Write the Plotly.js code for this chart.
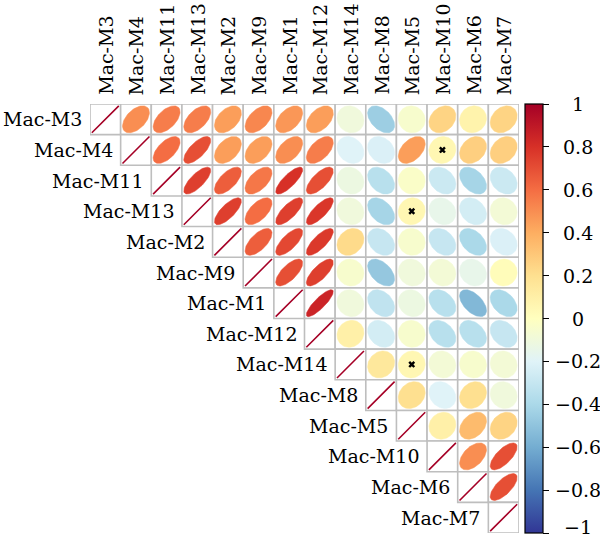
<!DOCTYPE html>
<html>
<head>
<meta charset="utf-8">
<script src="https://cdn.plot.ly/plotly-3.0.1.min.js"></script>
<style>
html,body{margin:0;padding:0;background:#fff}
</style>
</head>
<body>
<div id="chart" style="width:600px;height:536px"></div>
<script>
// ---- data ----
const labels = ['Mac-M3','Mac-M4','Mac-M11','Mac-M13','Mac-M2','Mac-M9','Mac-M1','Mac-M12','Mac-M14','Mac-M8','Mac-M5','Mac-M10','Mac-M6','Mac-M7'];
// upper-triangle correlations: row i, columns i+1..13
const rowM3  = [0.50, 0.55, 0.55, 0.45, 0.52, 0.47, 0.45, -0.10, -0.45, -0.05, 0.25, 0.08, 0.25];
const rowM4  = [0.60, 0.70, 0.45, 0.45, 0.50, 0.55, -0.20, -0.22, 0.45, 0.05, 0.27, 0.27];
const rowM11 = [0.75, 0.65, 0.57, 0.80, 0.70, -0.12, -0.35, -0.03, -0.28, -0.42, -0.28];
const rowM13 = [0.75, 0.60, 0.75, 0.78, -0.10, -0.42, 0.05, -0.15, -0.25, -0.08];
const rowM2  = [0.65, 0.72, 0.77, 0.22, -0.30, -0.05, -0.30, -0.40, -0.22];
const rowM9  = [0.70, 0.75, -0.05, -0.48, -0.10, -0.08, -0.15, 0.02];
const rowM1  = [0.85, -0.10, -0.32, -0.12, -0.35, -0.55, -0.40];
const rowM12 = [0.10, -0.25, -0.05, -0.35, -0.35, -0.30];
const rowM14 = [0.15, 0.05, -0.08, -0.05, -0.08];
const rowM8  = [0.20, -0.20, 0.20, -0.10];
const rowM5  = [0.10, 0.35, 0.25];
const rowM10 = [0.50, 0.70];
const rowM6  = [0.70];
const rows = [rowM3,rowM4,rowM11,rowM13,rowM2,rowM9,rowM1,rowM12,rowM14,rowM8,rowM5,rowM10,rowM6,[]];
// non-significant pairs (row label, column label)
const insigPairs = [['Mac-M4','Mac-M10'],['Mac-M13','Mac-M5'],['Mac-M14','Mac-M5']];
const cbTickVals = [1,0.8,0.6,0.4,0.2,0,-0.2,-0.4,-0.6,-0.8,-1];
const cbTickText = ['1','0.8','0.6','0.4','0.2','0','\u22120.2','\u22120.4','\u22120.6','\u22120.8','\u22121'];

const FONT = 'DejaVu Serif';

// ---- colours ----
const pal = ['#313695','#4575B4','#74ADD1','#ABD9E9','#E0F3F8','#FFFFBF','#FEE090','#FDAE61','#F46D43','#D73027','#A50026'];
const colorscale = pal.map((c,i)=>[i/(pal.length-1), c]);
function hex2rgb(h){return [parseInt(h.slice(1,3),16),parseInt(h.slice(3,5),16),parseInt(h.slice(5,7),16)];}
function colorFor(v){
  const t = (v+1)/2*(pal.length-1);
  const i = Math.min(Math.floor(t), pal.length-2);
  const f = t-i;
  const a = hex2rgb(pal[i]), b = hex2rgb(pal[i+1]);
  const c = a.map((x,k)=>Math.round(x+(b[k]-x)*f));
  return 'rgb('+c.join(',')+')';
}

const n = labels.length;
const S = 0.88;
const traces = [];
const shapes = [];
const annotations = [];
const cx=[], cy=[], cv=[];

for (let i=0;i<n;i++){
  for (let j=i;j<n;j++){
    shapes.push({type:'rect', xref:'x', yref:'y', x0:j-0.5, x1:j+0.5, y0:i-0.5, y1:i+0.5,
      line:{color:'#BEBEBE', width:1.6}, fillcolor:'#ffffff', layer:'below'});
  }
}

for (let i=0;i<n;i++){
  const dx=[], dy=[];
  for (let k=0;k<=60;k++){
    const t = 2*Math.PI*k/60;
    dx.push(i + S*Math.cos(t)/2);
    dy.push(i - S*Math.cos(t)/2);
  }
  traces.push({type:'scatter', mode:'lines', x:dx, y:dy, line:{color:colorFor(1), width:1.6},
    hoverinfo:'skip', showlegend:false});
  const row = rows[i];
  for (let m=0;m<row.length;m++){
    const j = i+1+m;
    const r = row[m];
    const dd = Math.acos(r)/2;
    const ex=[], ey=[];
    for (let k=0;k<=80;k++){
      const t = 2*Math.PI*k/80;
      ex.push(j + S*Math.cos(t+dd)/2);
      ey.push(i - S*Math.cos(t-dd)/2);
    }
    const col = colorFor(r);
    traces.push({type:'scatter', mode:'lines', x:ex, y:ey, fill:'toself', fillcolor:col,
      line:{color:col, width:0.5}, hoverinfo:'skip', showlegend:false});
    cx.push(j); cy.push(i); cv.push(r);
  }
}

traces.push({type:'scatter', mode:'markers', x:cx, y:cy, hoverinfo:'skip', showlegend:false,
  marker:{color:cv, colorscale:colorscale, cmin:-1, cmax:1, size:1, opacity:0, showscale:true,
    colorbar:{x:1.014, xanchor:'left', xpad:0, ypad:0, y:0.5, yanchor:'middle', len:1, lenmode:'fraction',
      thickness:18, thicknessmode:'pixels', outlinewidth:1.2, outlinecolor:'#000',
      tickvals:cbTickVals, ticks:'outside', ticklen:6, tickwidth:1, tickcolor:'#000', showticklabels:false}}});

const ix=[], iy=[];
insigPairs.forEach(p=>{ iy.push(labels.indexOf(p[0])); ix.push(labels.indexOf(p[1])); });
traces.push({type:'scatter', mode:'markers', x:ix, y:iy, hoverinfo:'skip', showlegend:false,
  marker:{symbol:'x', size:6, color:'#000', line:{width:0}}});

// row labels
for (let i=0;i<n;i++){
  annotations.push({xref:'x', yref:'y', x:i-0.5, y:i, text:labels[i], showarrow:false,
    xanchor:'right', yanchor:'middle', xshift:-6, font:{family:FONT, size:19, color:'#000'}});
}
// column labels (rotated)
for (let j=0;j<n;j++){
  annotations.push({xref:'x', yref:'paper', x:j, y:1, text:labels[j], showarrow:false, textangle:-90,
    xanchor:'center', yanchor:'bottom', yshift:7, font:{family:FONT, size:19, color:'#000'}});
}
// colour bar labels
for (let k=0;k<cbTickVals.length;k++){
  annotations.push({xref:'paper', yref:'paper', x:1.1375, y:(cbTickVals[k]+1)/2, text:cbTickText[k],
    showarrow:false, xanchor:'center', yanchor:'middle', yshift:(cbTickVals[k]===-1?6:0),
    font:{family:FONT, size:19, color:'#000'}});
}

const layout = {
  width:600, height:536,
  margin:{l:90, r:81, t:104, b:3, pad:0},
  paper_bgcolor:'#fff', plot_bgcolor:'#fff',
  xaxis:{range:[-0.5,13.5], showticklabels:false, ticks:'', showgrid:false, zeroline:false, showline:false, fixedrange:true},
  yaxis:{range:[13.5,-0.5], visible:false, showgrid:false, zeroline:false, fixedrange:true},
  shapes:shapes, annotations:annotations, showlegend:false
};
Plotly.newPlot('chart', traces, layout, {displayModeBar:false, staticPlot:true});
</script>
</body>
</html>
